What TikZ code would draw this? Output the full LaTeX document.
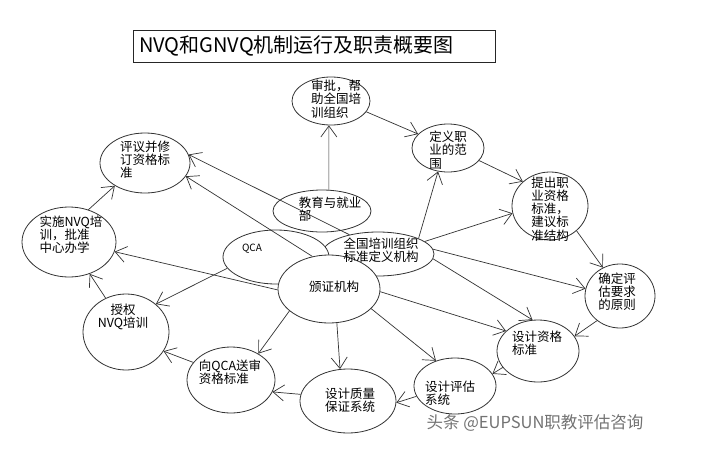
\documentclass[tikz,border=0pt]{standalone}
\usepackage{fontspec}
\newfontfamily\cjk{Noto Sans CJK SC}
\usetikzlibrary{shapes}
\usetikzlibrary{arrows.meta}
\tikzstyle{TitleBox}=[rectangle, draw=black!85, line width=0.8pt, inner xsep=6pt, inner ysep=2pt, minimum height=32pt, text width=350pt, align=left, font=\cjk\fontsize{20}{22}\selectfont]
\tikzstyle{Bubble}=[ellipse, draw=black!80, line width=0.8pt, fill=white, inner sep=0pt]
\tikzstyle{BubbleText}=[align=left, inner sep=0pt, font=\cjk\fontsize{12.5}{13.2}\selectfont]
\tikzstyle{Edge}=[->, line width=0.7pt, draw=black!80]
\tikzstyle{Mark}=[inner sep=0pt, text=black!55, font=\cjk\fontsize{16.5}{17}\selectfont]
\tikzset{>={Straight Barb[length=11pt,width=16pt]}}

\begin{document}
\begin{tikzpicture}[x=1pt, y=-1pt]
\path[fill=white] (0,0) rectangle (702,461);

\node[TitleBox](title) at (314,46) {NVQ和GNVQ机制运行及职责概要图};

% ellipses, the overlapping group first
\node[Bubble, minimum width=98pt, minimum height=42pt](jiaoyu) at (322,211) {};
\node[Bubble, minimum width=112pt, minimum height=44pt](quanguo) at (378,254) {};
\node[Bubble, minimum width=106pt, minimum height=54pt](qca) at (276,257) {};
\node[Bubble, minimum width=102pt, minimum height=68pt](banzheng) at (329,289) {};
\node[Bubble, minimum width=78pt, minimum height=48pt](shenpi) at (331,101) {};
\node[Bubble, minimum width=72pt, minimum height=48pt](dingyi) at (448,148) {};
\node[Bubble, minimum width=76pt, minimum height=68pt](tichu) at (550,206) {};
\node[Bubble, minimum width=70pt, minimum height=64pt](queding) at (620,296) {};
\node[Bubble, minimum width=82pt, minimum height=62pt](biaozhun) at (538,351) {};
\node[Bubble, minimum width=82pt, minimum height=56pt](pinggu) at (455,386) {};
\node[Bubble, minimum width=96pt, minimum height=64pt](zhiliang) at (348,401) {};
\node[Bubble, minimum width=88pt, minimum height=66pt](songshen) at (231,380) {};
\node[Bubble, minimum width=86pt, minimum height=76pt](shouquan) at (126,332) {};
\node[Bubble, minimum width=94pt, minimum height=70pt](shishi) at (69,242) {};
\node[Bubble, minimum width=90pt, minimum height=60pt](pingyi) at (145,163) {};

% connectors
\draw[Edge](jiaoyu.72) -- (shenpi.-95);
\draw[Edge](shenpi.-17) -- (dingyi.155);
\draw[Edge](dingyi.-22) -- (tichu.138);
\draw[Edge](quanguo.21) -- (dingyi.-113);
\draw[Edge](quanguo.15) -- (tichu.191);
\draw[Edge](tichu.-43) -- (queding.121);
\draw[Edge](quanguo.5) -- (queding.168);
\draw[Edge](quanguo.-5) -- (biaozhun.100);
\draw[Edge](banzheng.-3) -- (biaozhun.148);
\draw[Edge](queding.227) -- (biaozhun.22);
\draw[Edge](biaozhun.205) -- (pinggu.18);
\draw[Edge](banzheng.-25) -- (pinggu.127);
\draw[Edge](pinggu.195) -- (zhiliang.-2);
\draw[Edge](banzheng.-77) -- (zhiliang.104);
\draw[Edge](zhiliang.172) -- (songshen.-16);
\draw[Edge](banzheng.209) -- (songshen.44);
\draw[Edge](songshen.155) -- (shouquan.-27);
\draw[Edge](qca.193) -- (shouquan.43);
\draw[Edge](shouquan.121) -- (shishi.-57);
\draw[Edge](banzheng.181) -- (shishi.-12);
\draw[Edge](shishi.59) -- (pingyi.217);
\draw[Edge](quanguo.146) -- (pingyi.11);
\draw[Edge](banzheng.117) -- (pingyi.-18);

% texts
\node[BubbleText](jiaoyuText) at (330,209) {教育与就业\\部};
\node[BubbleText](quanguoText) at (381,250) {全国培训组织\\标准定义机构};
\node[BubbleText, font=\cjk\fontsize{10}{11}\selectfont](qcaText) at (252,249) {QCA};
\node[BubbleText](banzhengText) at (334,287) {颁证机构};
\node[BubbleText](shenpiText) at (336,99) {审批，帮\\助全国培\\训组织};
\node[BubbleText](dingyiText) at (448,150) {定义职\\业的范\\围};
\node[BubbleText](tichuText) at (550,209) {提出职\\业资格\\标准，\\建议标\\准结构};
\node[BubbleText](quedingText) at (617,292) {确定评\\估要求\\的原则};
\node[BubbleText](biaozhunText) at (537,343) {设计资格\\标准};
\node[BubbleText](pingguText) at (450,393) {设计评估\\系统};
\node[BubbleText](zhiliangText) at (350,400) {设计质量\\保证系统};
\node[BubbleText](songshenText) at (230,372) {向QCA送审\\资格标准};
\node[BubbleText, align=center](shouquanText) at (123,317) {授权\\NVQ培训};
\node[BubbleText](shishiText) at (71,235) {实施NVQ培\\训，批准\\中心办学};
\node[BubbleText](pingyiText) at (145,160) {评议并修\\订资格标\\准};

\node[Mark](mark) at (535,423) {头条 @EUPSUN职教评估咨询};
\end{tikzpicture}
\end{document}
